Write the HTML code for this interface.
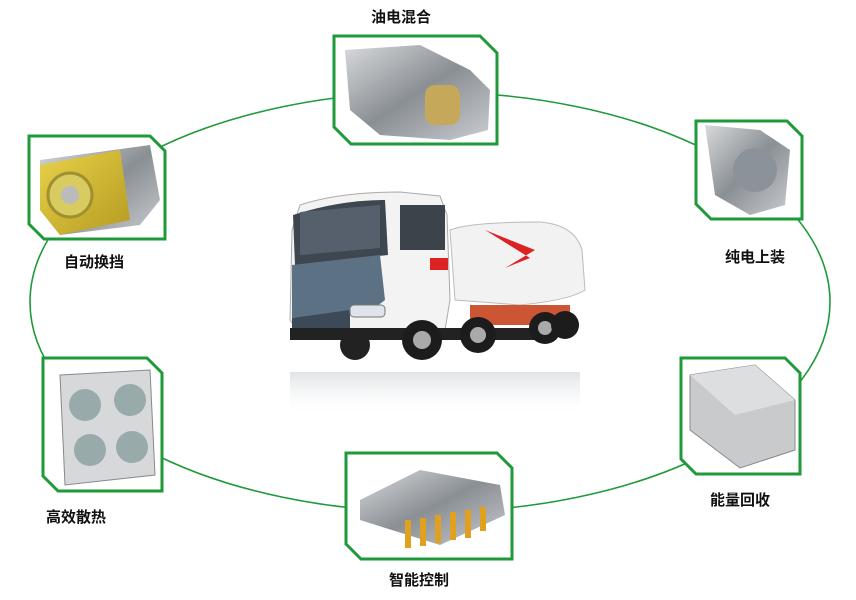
<!DOCTYPE html>
<html><head><meta charset="utf-8"><style>
html,body{margin:0;padding:0;background:#fff;}
body{width:856px;height:600px;position:relative;overflow:hidden;font-family:"Liberation Sans","Noto Sans CJK SC",sans-serif;}
.l{position:absolute;font-size:15px;font-weight:bold;color:#111;white-space:nowrap;}
</style></head><body>
<svg width="856" height="600" style="position:absolute;left:0;top:0">
<defs>
<linearGradient id="g1" x1="0" y1="0" x2="1" y2="1"><stop offset="0" stop-color="#d8dadc"/><stop offset="0.5" stop-color="#8a8f94"/><stop offset="1" stop-color="#c9ccd0"/></linearGradient>
<linearGradient id="gy" x1="0" y1="0" x2="1" y2="1"><stop offset="0" stop-color="#e8d24a"/><stop offset="1" stop-color="#b59a20"/></linearGradient>
<linearGradient id="rf" x1="0" y1="0" x2="0" y2="1"><stop offset="0" stop-color="#ccd0d4" stop-opacity="0.6"/><stop offset="1" stop-color="#fff" stop-opacity="0"/></linearGradient>
</defs>
<ellipse cx="430" cy="302" rx="400" ry="210" fill="none" stroke="#1f9a3a" stroke-width="1.6"/>

<!-- truck -->
<g>
<rect x="290" y="372" width="290" height="45" fill="url(#rf)"/>
<path d="M450 230 Q470 222 540 222 Q575 225 582 250 L585 290 Q570 300 520 305 L455 300 Z" fill="#f2f2f2" stroke="#bbb"/>
<path d="M485 230 L535 250 L505 268 L530 258 Z" fill="#d22"/>
<path d="M300 205 Q340 192 400 192 L440 196 L447 215 L450 300 L445 330 L300 335 L290 320 L292 230 Z" fill="#f3f3f3" stroke="#aaa"/>
<path d="M293 215 Q340 200 385 200 L388 255 L295 265 Z" fill="#3e4650"/>
<path d="M300 212 L380 205 L380 248 L300 255 Z" fill="#56606c"/>
<path d="M292 265 L380 255 L385 300 L372 310 L292 318 Z" fill="#5d7184"/>
<path d="M292 318 L350 310 L350 330 L292 335 Z" fill="#3c4a58"/>
<rect x="350" y="305" width="35" height="12" rx="4" fill="#dfe4ea" stroke="#777"/>
<rect x="400" y="205" width="45" height="45" fill="#3d434a"/>
<rect x="430" y="258" width="18" height="12" fill="#d22"/>
<rect x="290" y="328" width="260" height="12" fill="#222"/>
<rect x="470" y="305" width="100" height="20" fill="#c53"/>
<circle cx="355" cy="345" r="15" fill="#222"/>
<circle cx="422" cy="340" r="20" fill="#1c1c1c"/><circle cx="422" cy="340" r="9" fill="#aaa"/>
<circle cx="478" cy="335" r="18" fill="#1c1c1c"/><circle cx="478" cy="335" r="8" fill="#aaa"/>
<circle cx="545" cy="328" r="16" fill="#1c1c1c"/><circle cx="545" cy="328" r="7" fill="#aaa"/>
<circle cx="565" cy="325" r="14" fill="#1c1c1c"/>
</g>

<!-- frames -->
<g fill="#fff" stroke="#1f9a3a" stroke-width="3">
<path d="M334 36 L480 36 L497 53 L497 144 L351 144 L334 127 Z"/>
<path d="M29 136 L150 136 L165 151 L165 239 L44 239 L29 224 Z"/>
<path d="M696 121 L787 121 L802 136 L802 219 L711 219 L696 204 Z"/>
<path d="M43 358 L147 358 L162 373 L162 491 L58 491 L43 476 Z"/>
<path d="M681 358 L785 358 L800 373 L800 474 L696 474 L681 459 Z"/>
<path d="M346 453 L497 453 L512 468 L512 559 L361 559 L346 544 Z"/>
</g>
<!-- images -->
<path d="M345 50 L420 45 L470 70 L490 90 L488 130 L450 140 L380 135 L350 110 Z" fill="url(#g1)"/>
<rect x="425" y="85" width="35" height="40" rx="10" fill="#c6a85a"/>
<path d="M40 160 L150 145 L160 200 L140 225 L60 235 L40 210 Z" fill="url(#g1)"/>
<path d="M40 165 L120 150 L130 220 L60 235 L40 210 Z" fill="url(#gy)"/>
<circle cx="70" cy="195" r="22" fill="#d8cc60" stroke="#a09030" stroke-width="3"/>
<circle cx="70" cy="195" r="9" fill="#bbb"/>
<path d="M705 125 L760 130 L790 150 L785 205 L750 215 L715 195 Z" fill="url(#g1)"/>
<circle cx="755" cy="170" r="22" fill="#8b929a"/>
<path d="M60 375 L150 370 L155 475 L65 485 Z" fill="#d6d8da" stroke="#888"/>
<circle cx="85" cy="405" r="16" fill="#9aa" /><circle cx="130" cy="400" r="16" fill="#9aa"/>
<circle cx="90" cy="450" r="16" fill="#9aa"/><circle cx="132" cy="447" r="16" fill="#9aa"/>
<path d="M690 375 L755 365 L795 400 L795 450 L740 468 L690 430 Z" fill="#c8cacc" stroke="#888"/>
<path d="M690 375 L755 365 L795 400 L735 415 Z" fill="#dcdee0"/>
<path d="M360 500 L420 470 L500 485 L505 515 L440 545 L360 520 Z" fill="url(#g1)"/>
<g fill="#e0a020"><rect x="405" y="520" width="6" height="28"/><rect x="420" y="518" width="6" height="28"/><rect x="435" y="515" width="6" height="28"/><rect x="450" y="512" width="6" height="28"/><rect x="465" y="510" width="6" height="28"/><rect x="480" y="507" width="6" height="24"/></g>
</svg>
<div class="l" style="left:371px;top:6px">油电混合</div>
<div class="l" style="left:64px;top:251px">自动换挡</div>
<div class="l" style="left:725px;top:246px">纯电上装</div>
<div class="l" style="left:46px;top:506px">高效散热</div>
<div class="l" style="left:710px;top:489px">能量回收</div>
<div class="l" style="left:389px;top:569px">智能控制</div>
</body></html>
